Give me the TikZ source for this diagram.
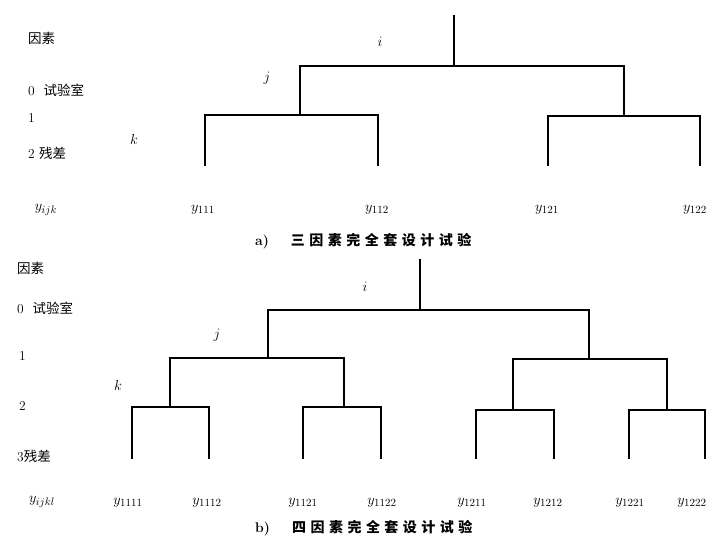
\documentclass[tikz,border=0pt]{standalone}
\usepackage{fontspec}
\newfontfamily\cjk{Noto Sans CJK SC}
\newfontfamily\cjkcap{Noto Sans CJK SC}[LetterSpace=32]
\begin{document}
\begin{tikzpicture}[x=1pt,y=-1pt,
  br/.style={line width=1.3pt,line cap=rect},
  lbl/.style={font=\fontsize{13.5}{15}\selectfont,anchor=west,inner sep=0pt},
  leaf/.style={font=\fontsize{15}{17}\selectfont,inner sep=0pt},
  lv/.style={font=\fontsize{14}{16}\selectfont,inner sep=0pt},
  captxt/.style={font=\fontsize{14}{16}\selectfont\bfseries,inner sep=0pt}]
\useasboundingbox (0,0) rectangle (711,540);
% ---------- a) ----------
\node[lbl] (fa) at (28,38) {\cjk 因素};
\node[lbl] (fa0) at (28,90) {0\ \ \cjk 试验室};
\node[lbl] (fa1) at (28,118) {1};
\node[lbl] (fa2) at (28,153) {2 \cjk 残差};
\node[leaf] (ya) at (46,210) {$y_{ijk}$};
\node[lv] (li) at (380,42) {$i$};
\node[lv] (lj) at (267,78) {$j$};
\node[lv] (lk) at (134,140) {$k$};
\coordinate (a0) at (454,16);
\coordinate (a1) at (454,66);
\coordinate (aL) at (300,66);
\coordinate (aR) at (624,66);
\coordinate (aLd) at (300,115);
\coordinate (aRd) at (624,116);
\coordinate (aLL) at (205,115);
\coordinate (aLR) at (378,115);
\coordinate (aRL) at (548,116);
\coordinate (aRR) at (700,116);
\coordinate (e1) at (205,165);
\coordinate (e2) at (378,165);
\coordinate (e3) at (548,165);
\coordinate (e4) at (700,165);
\draw[br] (a0) -- (a1);
\draw[br] (aL) -- (aR);
\draw[br] (aL) -- (aLd);
\draw[br] (aR) -- (aRd);
\draw[br] (aLL) -- (aLR);
\draw[br] (aRL) -- (aRR);
\draw[br] (aLL) -- (e1);
\draw[br] (aLR) -- (e2);
\draw[br] (aRL) -- (e3);
\draw[br] (aRR) -- (e4);
\node[leaf] (y111) at (203,210) {$y_{111}$};
\node[leaf] (y112) at (377,210) {$y_{112}$};
\node[leaf] (y121) at (547,210) {$y_{121}$};
\node[leaf] (y122) at (695,210) {$y_{122}$};
\node[captxt,anchor=west] (capa) at (255,241) {a)\hspace{22pt}\cjkcap\bfseries 三因素完全套设计试验};
% ---------- b) ----------
\node[lbl] (fb) at (17,268) {\cjk 因素};
\node[lbl] (fb0) at (17,308) {0\ \ \cjk 试验室};
\node[lbl] (fb1) at (19,356) {1};
\node[lbl] (fb2) at (19,406) {2};
\node[lbl] (fb3) at (17,456) {3\cjk 残差};
\node[leaf] (yb) at (42,502) {$y_{ijkl}$};
\node[lv] (mi) at (365,287) {$i$};
\node[lv] (mj) at (217,335) {$j$};
\node[lv] (mk) at (118,385) {$k$};
\coordinate (b0) at (420,260);
\coordinate (b1) at (420,310);
\coordinate (bL) at (268,310);
\coordinate (bR) at (589,310);
\coordinate (bLd) at (268,358);
\coordinate (bRd) at (589,359);
\coordinate (bLL) at (170,358);
\coordinate (bLR) at (344,358);
\coordinate (bRL) at (513,359);
\coordinate (bRR) at (667,359);
\coordinate (bLLd) at (170,407);
\coordinate (bLRd) at (344,407);
\coordinate (bRLd) at (513,410);
\coordinate (bRRd) at (667,410);
\coordinate (c1) at (132,407);
\coordinate (c2) at (209,407);
\coordinate (c3) at (303,407);
\coordinate (c4) at (381,407);
\coordinate (c5) at (476,410);
\coordinate (c6) at (554,410);
\coordinate (c7) at (629,410);
\coordinate (c8) at (705,410);
\coordinate (d1) at (132,458);
\coordinate (d2) at (209,458);
\coordinate (d3) at (303,458);
\coordinate (d4) at (381,458);
\coordinate (d5) at (476,458);
\coordinate (d6) at (554,458);
\coordinate (d7) at (629,458);
\coordinate (d8) at (705,458);
\draw[br] (b0) -- (b1);
\draw[br] (bL) -- (bR);
\draw[br] (bL) -- (bLd);
\draw[br] (bR) -- (bRd);
\draw[br] (bLL) -- (bLR);
\draw[br] (bRL) -- (bRR);
\draw[br] (bLL) -- (bLLd);
\draw[br] (bLR) -- (bLRd);
\draw[br] (bRL) -- (bRLd);
\draw[br] (bRR) -- (bRRd);
\draw[br] (c1) -- (c2);
\draw[br] (c3) -- (c4);
\draw[br] (c5) -- (c6);
\draw[br] (c7) -- (c8);
\foreach \i in {1,...,8} {\draw[br] (c\i) -- (d\i);}
\node[leaf] (z1) at (128,503) {$y_{1111}$};
\node[leaf] (z2) at (207,503) {$y_{1112}$};
\node[leaf] (z3) at (303,503) {$y_{1121}$};
\node[leaf] (z4) at (382,503) {$y_{1122}$};
\node[leaf] (z5) at (472,503) {$y_{1211}$};
\node[leaf] (z6) at (548,503) {$y_{1212}$};
\node[leaf] (z7) at (630,503) {$y_{1221}$};
\node[leaf] (z8) at (692,503) {$y_{1222}$};
\node[captxt,anchor=west] (capb) at (255,528) {b)\hspace{22pt}\cjkcap\bfseries 四因素完全套设计试验};
\end{tikzpicture}
\end{document}
